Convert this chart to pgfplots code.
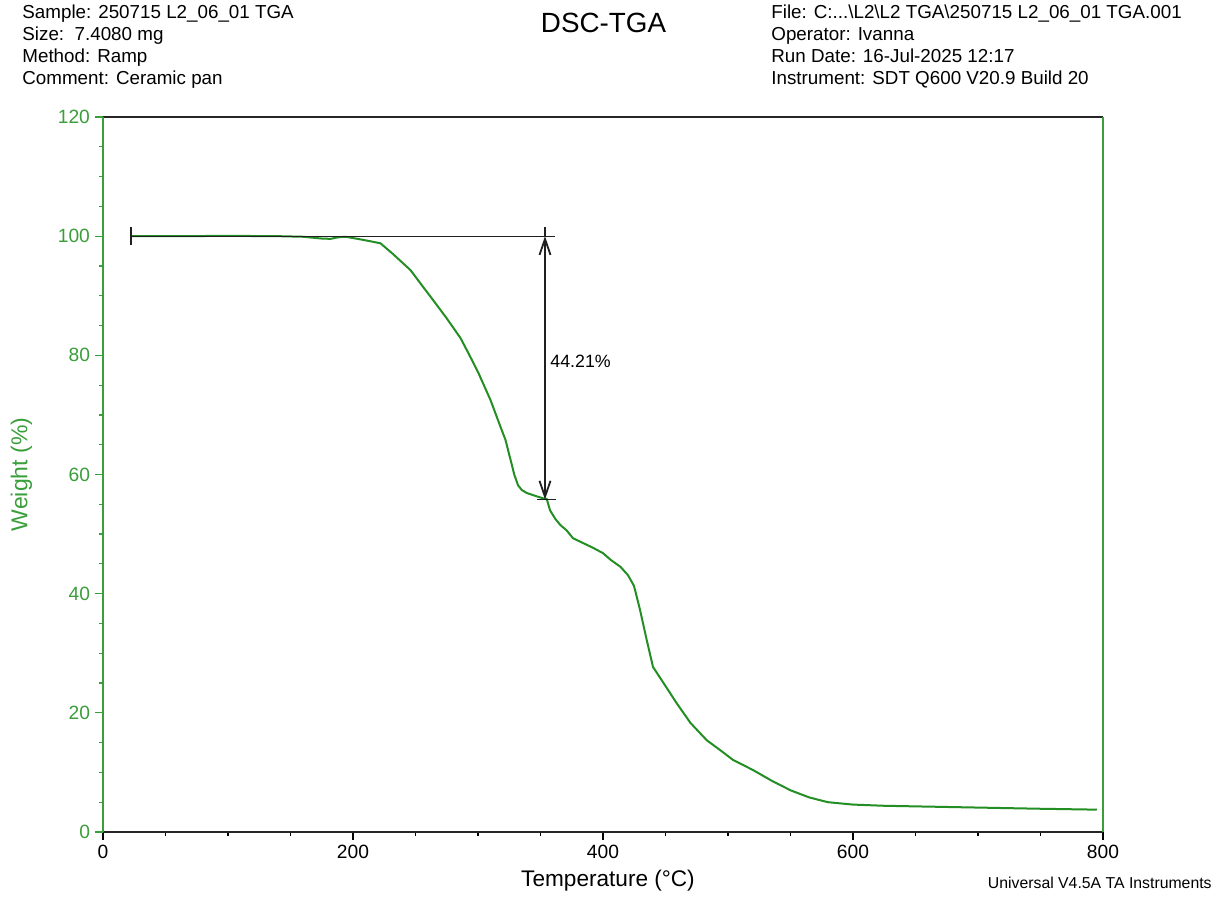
\documentclass[border=0pt]{standalone}
\usepackage{pgfplots}
\pgfplotsset{compat=1.18}
\usepackage{fontspec}
\setmainfont{Liberation Sans}
\usetikzlibrary{arrows.meta}

\definecolor{curve}{HTML}{238E23}
\definecolor{ygreen}{HTML}{3A9E3A}
\definecolor{annot}{HTML}{202020}

\begin{document}
\begin{tikzpicture}
\begin{axis}[
    name=ax,
    scale only axis,
    width=500pt, height=357.5pt,
    xmin=0, xmax=800, ymin=0, ymax=120,
    xtick={0,200,...,800},
    ytick={0,20,...,120},
    minor x tick num=3,
    minor y tick num=3,
    tick align=outside,
    xtick pos=bottom,
    ytick pos=left,
    major tick length=4pt,
    minor tick length=2pt,
    x tick style={black, line width=0.6pt},
    y tick style={ygreen, line width=0.6pt},
    separate axis lines,
    x axis line style={black!85, line width=0.75pt},
    y axis line style={ygreen, line width=0.75pt},
    /pgf/number format/assume math mode=true,
    tick label style={font=\fontsize{9.6}{11}\selectfont},
    xticklabel style={black, yshift=1pt},
    yticklabel style={ygreen, xshift=1pt},
    clip=false,
]
\addplot[curve, line width=1pt] coordinates {
(22.4,100) (60,100) (100,100.05) (140,100) (160,99.9) (175,99.6) (182,99.55)
(188,99.8) (194,99.9) (205,99.5) (215,99.1) (222,98.8) (232,97.0) (246,94.3)
(256,91.5) (264,89.3) (275,86.2) (286,82.9) (292,80.5) (300,77.2) (310,72.5)
(318,68.0) (322,65.8) (326,62.5) (329,60.0) (332,58.2) (335,57.4) (339,56.9)
(346,56.4) (352,56.0) (355,55.9) (357.6,54.0) (362,52.5) (366,51.5) (371,50.6)
(376,49.3) (385,48.4) (392,47.7) (400,46.8) (406,45.7) (414,44.5) (420,43.1)
(424.8,41.3) (429.6,37.3) (435,32.2) (440,27.7) (450,24.5) (459,21.6)
(470,18.3) (483,15.4) (494,13.7) (504,12.1) (520,10.4) (535,8.6) (550,7.0)
(565,5.8) (580,5.0) (600,4.6) (625,4.4) (650,4.3) (700,4.1) (750,3.9) (795,3.75)
};

% step annotation
\draw[annot, line width=0.6pt] (axis cs:22.4,100) -- (axis cs:361.6,100);
\draw[annot, line width=0.6pt] (axis cs:22.4,98.5) -- (axis cs:22.4,101.5);
\draw[annot, line width=0.6pt] (axis cs:353.6,100) -- (axis cs:353.6,101.5);
\draw[annot, line width=0.6pt] (axis cs:347,55.79) -- (axis cs:362.4,55.79);
\draw[annot, line width=0.6pt,
  {Straight Barb[length=8pt,width=5.5pt,line width=0.9pt]}-{Straight Barb[length=8pt,width=5.5pt,line width=0.9pt]}]
  (axis cs:353.6,100) -- (axis cs:353.6,55.79);
\node[anchor=base west, inner sep=0pt, font=\fontsize{8.9}{10}\selectfont]
  at (axis cs:357.6,78.0) {44.21\%};

% labels and header
\node[rotate=90, anchor=center, ygreen, font=\fontsize{11.5}{13}\selectfont]
  at ([xshift=-40.75pt]rel axis cs:0,0.5) {Weight (\%)};
\node[anchor=base, font=\fontsize{11.3}{13}\selectfont]
  at ([xshift=252.5pt,yshift=-27.5pt]rel axis cs:0,0) {Temperature (°C)};
\node[anchor=base east, inner sep=0pt, font=\fontsize{7.9}{9}\selectfont]
  at ([xshift=554.5pt,yshift=-28.5pt]rel axis cs:0,0) {Universal V4.5A TA Instruments};
\node[anchor=base, inner sep=0pt, font=\fontsize{13.9}{16}\selectfont]
  at ([xshift=250.25pt,yshift=399.5pt]rel axis cs:0,0) {DSC-TGA};
\node[anchor=base west, inner sep=0pt, font=\fontsize{9.4}{11}\selectfont]
  at ([xshift=-40.5pt,yshift=406.5pt]rel axis cs:0,0) {Sample: 250715 L2\_06\_01 TGA};
\node[anchor=base west, inner sep=0pt, font=\fontsize{9.4}{11}\selectfont]
  at ([xshift=-40.5pt,yshift=395.5pt]rel axis cs:0,0) {Size:\ \ 7.4080 mg};
\node[anchor=base west, inner sep=0pt, font=\fontsize{9.4}{11}\selectfont]
  at ([xshift=-40.5pt,yshift=384.5pt]rel axis cs:0,0) {Method: Ramp};
\node[anchor=base west, inner sep=0pt, font=\fontsize{9.4}{11}\selectfont]
  at ([xshift=-40.5pt,yshift=373.5pt]rel axis cs:0,0) {Comment: Ceramic pan};
\node[anchor=base west, inner sep=0pt, font=\fontsize{9.4}{11}\selectfont]
  at ([xshift=334pt,yshift=406.5pt]rel axis cs:0,0) {File: C:...\textbackslash L2\textbackslash L2 TGA\textbackslash 250715 L2\_06\_01 TGA.001};
\node[anchor=base west, inner sep=0pt, font=\fontsize{9.4}{11}\selectfont]
  at ([xshift=334pt,yshift=395.5pt]rel axis cs:0,0) {Operator: Ivanna};
\node[anchor=base west, inner sep=0pt, font=\fontsize{9.4}{11}\selectfont]
  at ([xshift=334pt,yshift=384.5pt]rel axis cs:0,0) {Run Date: 16-Jul-2025 12:17};
\node[anchor=base west, inner sep=0pt, font=\fontsize{9.4}{11}\selectfont]
  at ([xshift=334pt,yshift=373.5pt]rel axis cs:0,0) {Instrument: SDT Q600 V20.9 Build 20};
\end{axis}
\pgfresetboundingbox
\path (ax.south west) ++(-51.5pt,-34pt) rectangle ++(611pt,450pt);
\end{tikzpicture}
\end{document}
